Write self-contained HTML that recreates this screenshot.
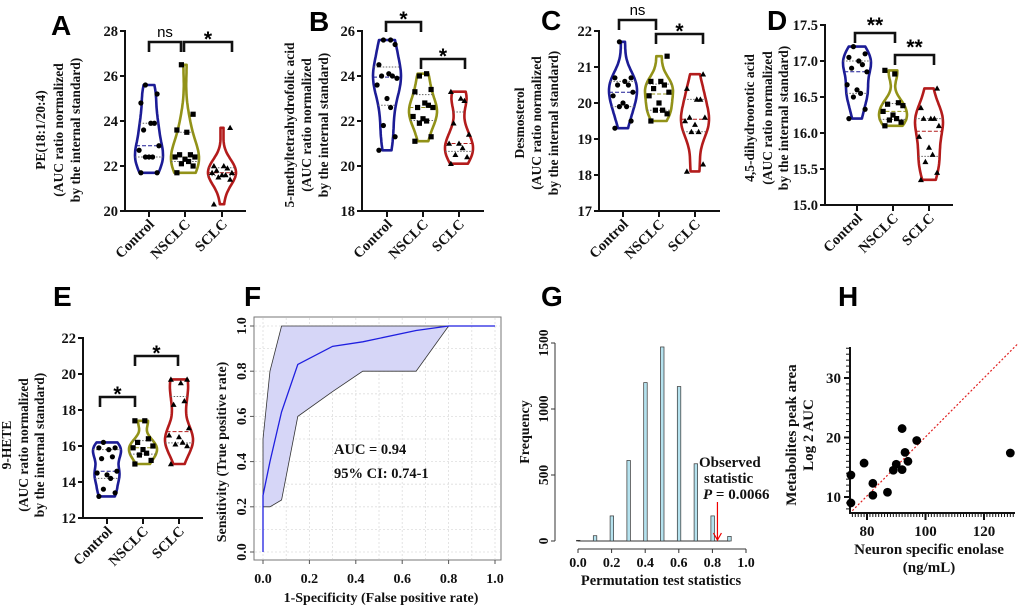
<!DOCTYPE html>
<html><head><meta charset="utf-8"><style>
body{margin:0;background:#fff}
svg{display:block}
.t{font-family:"Liberation Serif",serif;font-weight:bold;fill:#111}
.L{font-family:"Liberation Sans",sans-serif;font-weight:bold;fill:#000}
</style></head><body>
<svg id="fig" width="1020" height="608" viewBox="0 0 1020 608" xmlns="http://www.w3.org/2000/svg"></svg>
<script>
// ---- data (violin panels) ----
const groups = ["Control","NSCLC","SCLC"];
const aControl=[21.7,21.7,22.4,22.4,22.4,22.7,22.9,23.6,23.9,23.9,24.8,25.2,25.6];
const aNSCLC=[21.7,22.0,22.1,22.2,22.3,22.4,22.4,22.5,22.5,23.5,23.6,24.3,26.5];
const aSCLC=[20.3,21.4,21.5,21.6,21.6,21.7,21.7,21.8,21.9,22.0,22.0,23.7];
const bControl=[20.7,21.3,21.8,22.6,23.0,23.6,23.9,24.0,24.0,24.1,24.5,25.4,25.6,25.6];
const bNSCLC=[21.1,21.3,21.9,22.0,22.1,22.2,22.6,22.6,22.7,22.8,23.3,23.4,24.0,24.1];
const bSCLC=[20.1,20.4,20.5,20.8,21.0,21.0,21.4,21.9,22.9,23.0,23.3];
const cControl=[19.3,19.5,19.9,19.9,20.0,20.2,20.3,20.5,20.5,20.6,20.7,20.7,21.7];
const cNSCLC=[19.5,19.7,19.8,19.8,20.0,20.2,20.3,20.4,20.5,20.6,20.6,21.3];
const cSCLC=[18.1,18.3,19.2,19.2,19.4,19.5,19.6,19.6,20.1,20.1,20.4,20.8];
const dControl=[16.2,16.33,16.5,16.55,16.6,16.67,16.85,16.9,16.95,17.0,17.05,17.1,17.2];
const dNSCLC=[16.1,16.15,16.18,16.2,16.25,16.3,16.38,16.4,16.42,16.82,16.87];
const dSCLC=[15.35,15.45,15.6,15.7,15.8,15.95,16.1,16.2,16.2,16.2,16.35,16.62];
const eControl=[13.2,13.4,13.6,14.2,14.4,14.5,14.6,15.3,15.4,15.8,15.9,15.9,16.2];
const eNSCLC=[15.0,15.2,15.5,15.6,15.8,15.9,16.0,16.2,16.4,17.4,17.4];
const eSCLC=[15.0,16.0,16.1,16.2,16.5,16.6,17.0,18.3,18.5,19.5,19.7,19.7];
// ---- ROC ----
const rocFpr=[0,0,0.03,0.08,0.15,0.3,0.43,0.66,0.8,1];
const rocTpr=[0,0.25,0.4,0.62,0.83,0.91,0.93,0.98,1,1];
const ciUpX=[0,0.03,0.08,1];
const ciUpY=[0.5,0.8,1,1];
const ciLoX=[0,0.03,0.08,0.15,0.3,0.43,0.66,0.8,1];
const ciLoY=[0.2,0.2,0.23,0.6,0.71,0.8,0.8,1,1];
const rocTicks=[0,0.2,0.4,0.6,0.8,1.0];
// ---- permutation histogram ----
const permBins=[0.0,0.1,0.2,0.3,0.4,0.5,0.6,0.7,0.8,0.9];
const permFreq=[5,40,190,610,1200,1470,1170,585,190,35];
const permObserved=0.83;
const permYTicks=[0,500,1000,1500];
const permXTicks=[0,0.2,0.4,0.6,0.8,1.0];
// ---- correlation ----
const nseX=[74.5,74.5,79,82,82,87,89,90,92,92,93,94,97,129];
const aucY=[9,13.7,15.7,12.3,10.3,10.8,14.5,15.5,21.5,14.6,17.5,16,19.5,17.4];
const fitLine=[0.496,-29.5];
const hXTicks=[80,100,120];
const hYTicks=[10,20,30];

const NS="http://www.w3.org/2000/svg";
const svg=document.getElementById('fig');
function el(tag,attrs,parent,txt){const e=document.createElementNS(NS,tag);for(const k in attrs)e.setAttribute(k,attrs[k]);if(txt!==undefined)e.textContent=txt;(parent||svg).appendChild(e);return e;}
function grp(name){const g=el('g',{});return g;}
function label(txt,x,y,name){const t=el('text',{x:x,y:y,'class':'L','font-size':28},svg,txt);}
const COLORS=["#1c1c96","#929218","#b31b1b"];

function violinPanel(cfg,dataSets){
  const g=grp(cfg.name);
  const sy=v=>cfg.y0px-(v-cfg.yMin)/(cfg.yMax-cfg.yMin)*(cfg.y0px-cfg.y1px);
  const ya=el('line',{x1:cfg.ax,y1:cfg.y1px-1,x2:cfg.ax,y2:cfg.y0px,stroke:'#111','stroke-width':2},g);
  
  const xa=el('line',{x1:cfg.ax-1,y1:cfg.y0px,x2:cfg.xEnd,y2:cfg.y0px,stroke:'#111','stroke-width':2},g);
  
  for(let v=cfg.yMin;v<=cfg.yMax+1e-9;v+=cfg.step){
    const y=sy(v);
    el('line',{x1:cfg.ax-5,y1:y,x2:cfg.ax,y2:y,stroke:'#111','stroke-width':2},g);
    const t=el('text',{x:cfg.ax-7,y:y+5,'text-anchor':'end','class':'t','font-size':14.5},g,v.toFixed(cfg.dec));
    
  }
  cfg.cx.forEach((cx,i)=>{
    el('line',{x1:cx,y1:cfg.y0px,x2:cx,y2:cfg.y0px+6,stroke:'#111','stroke-width':2},g);
    const t=el('text',{'text-anchor':'end','class':'t','font-size':14.5,transform:`translate(${cx+6},${cfg.y0px+14}) rotate(-45)`},g,groups[i]);
    
  });
  cfg.title.forEach((s,i)=>{
    const t=el('text',{'text-anchor':'middle','class':'t','font-size':cfg.tfs||13.5,transform:`translate(${cfg.tx[i]},${cfg.ty}) rotate(-90)`},g,s);
    
  });
  dataSets.forEach((vals,gi)=>{
    const cx=cfg.cx[gi],col=COLORS[gi];
    const s=[...vals].sort((a,b)=>a-b);const mn=s[0],mx=s[s.length-1];
    const h=(mx-mn)*0.16+1e-6;const N=40;const pts=[];let dmax=0;
    for(let k=0;k<=N;k++){const v=mn+(mx-mn)*k/N;let d=0;s.forEach(x=>{d+=Math.exp(-0.5*((v-x)/h)**2)});pts.push([v,d]);dmax=Math.max(dmax,d);}
    const W=cfg.hw||13;
    let p='';pts.forEach(([v,d],k)=>{p+=(k?'L':'M')+(cx+d/dmax*W).toFixed(1)+','+sy(v).toFixed(1)});
    for(let k=N;k>=0;k--){const [v,d]=pts[k];p+='L'+(cx-d/dmax*W).toFixed(1)+','+sy(v).toFixed(1)}
    p+='Z';
    const vp=el('path',{d:p,fill:'none',stroke:col,'stroke-width':2.6,'stroke-linejoin':'round'},g);
    
    const q=f=>{const i=(s.length-1)*f,lo=Math.floor(i),hi=Math.ceil(i);return s[lo]+(s[hi]-s[lo])*(i-lo)};
    [[0.25,'1.5,1.5','#666'],[0.5,'4,2',col],[0.75,'1.5,1.5','#666']].forEach(([f,da,c])=>{
      const v=q(f);const y=sy(v);let d=0;s.forEach(x=>{d+=Math.exp(-0.5*((v-x)/h)**2)});const w=d/dmax*W;
      el('line',{x1:cx-w,y1:y,x2:cx+w,y2:y,stroke:c,'stroke-width':1,'stroke-dasharray':da},g);
    });
    vals.forEach((v,k)=>{
      const off=[-9,9,-4,4,0,-11,11,-6,6,2][k%10];const x=cx+off*0.9,y=sy(v);let m;
      if(gi===0)m=el('circle',{cx:x,cy:y,r:2.6,fill:'#000'},g);
      else if(gi===1)m=el('rect',{x:x-2.6,y:y-2.6,width:5.2,height:5.2,fill:'#000'},g);
      else m=el('path',{d:`M${x},${y-3}L${x+3},${y+2.3}L${x-3},${y+2.3}Z`,fill:'#000'},g);
      
    });
  });
  cfg.br.forEach(b=>{
    const bp=el('path',{d:`M${b[0]},${b[2]+10}V${b[2]}H${b[1]}V${b[2]+10}`,fill:'none',stroke:'#111','stroke-width':2.6},g);
    
    const ns=b[3]==='ns';
    const t=el('text',{x:(b[0]+b[1])/2,y:ns?b[2]-5:b[2]+(b[3].length>1?-1:4),'text-anchor':'middle','class':'L','font-size':ns?15:21},g,b[3]);
    if(ns)t.setAttribute('style','font-weight:normal');
    
  });
}

violinPanel({name:'panel-a',ax:125,y0px:211,y1px:31,yMin:20,yMax:28,step:2,dec:0,cx:[149,185,222],xEnd:246,hw:14,
  title:['PE(18:1/20:4)','(AUC ratio normalized','by the internal standard)'],tx:[45,63,80],ty:130,
  br:[[149,181,42,'ns'],[184,232,42,'*']]},[aControl,aNSCLC,aSCLC]);
violinPanel({name:'panel-b',ax:362,y0px:211,y1px:31,yMin:18,yMax:26,step:2,dec:0,cx:[387,423,459],xEnd:484,hw:14,
  title:['5-methyltetrahydrofolic acid','(AUC ratio normalized','by the internal standard)'],tx:[294,311,328],ty:125,
  br:[[386,421,22,'*'],[421,465,59,'*']]},[bControl,bNSCLC,bSCLC]);
violinPanel({name:'panel-c',ax:599,y0px:211,y1px:31,yMin:17,yMax:22,step:1,dec:0,cx:[623,659,695],xEnd:720,hw:14,
  title:['Desmosterol','(AUC ratio normalized','by the internal standard)'],tx:[524,541,558],ty:123,
  br:[[619,656,20,'ns'],[656,703,34,'*']]},[cControl,cNSCLC,cSCLC]);
violinPanel({name:'panel-d',ax:825,y0px:205,y1px:25,yMin:15,yMax:17.5,step:0.5,dec:1,cx:[857,893,929],xEnd:953,hw:14,
  title:['4,5-dihydroorotic acid','(AUC ratio normalized','by the internal standard)'],tx:[754,772,788],ty:118,
  br:[[855,895,33,'**'],[895,934,55,'**']]},[dControl,dNSCLC,dSCLC]);
violinPanel({name:'panel-e',ax:83,y0px:518,y1px:338,yMin:12,yMax:22,step:2,dec:0,cx:[107,143,179],xEnd:203,hw:14,
  title:['9-HETE','(AUC ratio normalized','by the internal standard)'],tx:[11,28,44],ty:445,
  br:[[100,135,397,'*'],[135,178,356,'*']]},[eControl,eNSCLC,eSCLC]);

label('A',51,35,'panel-label-a');label('B',309,31,'panel-label-b');label('C',541,30,'panel-label-c');
label('D',767,30,'panel-label-d');label('E',53,306,'panel-label-e');label('F',244,306,'panel-label-f');
label('G',541,306,'panel-label-g');label('H',838,306,'panel-label-h');

// ---- Panel F ROC ----
(function(){
  const g=grp('panel-f-roc');
  const X=v=>263+v*(495-263),Y=v=>552-v*(552-326);
  el('rect',{x:254,y:317,width:247,height:243,fill:'#fff',stroke:'#777','stroke-width':1},g);
  for(let v=0;v<=1.0001;v+=0.1){
    el('line',{x1:X(v),y1:318,x2:X(v),y2:559,stroke:'#ddd','stroke-width':0.8,'stroke-dasharray':'2,2'},g);
    el('line',{x1:255,y1:Y(v),x2:500,y2:Y(v),stroke:'#ddd','stroke-width':0.8,'stroke-dasharray':'2,2'},g);
  }
  let p='';ciUpX.forEach((x,i)=>{p+=(i?'L':'M')+X(x)+','+Y(ciUpY[i])});
  for(let i=ciLoX.length-1;i>=0;i--)p+='L'+X(ciLoX[i])+','+Y(ciLoY[i]);
  const band=el('path',{d:p+'Z',fill:'#d6d6f7',stroke:'#333','stroke-width':0.8},g);
  
  let r='';rocFpr.forEach((x,i)=>{r+=(i?'L':'M')+X(x)+','+Y(rocTpr[i])});
  const rl=el('path',{d:r,fill:'none',stroke:'#1f1fe0','stroke-width':1.3},g);
  
  rocTicks.forEach(v=>{
    el('line',{x1:X(v),y1:560,x2:X(v),y2:564,stroke:'#555'},g);
    el('line',{x1:250,y1:Y(v),x2:254,y2:Y(v),stroke:'#555'},g);
    const tx=el('text',{x:X(v),y:583,'text-anchor':'middle','class':'t','font-size':14},g,v.toFixed(1));
    
    const ty=el('text',{'text-anchor':'middle','class':'t','font-size':14,transform:`translate(246,${Y(v)}) rotate(-90)`},g,v.toFixed(1));
    
  });
  const xt=el('text',{x:381,y:602,'text-anchor':'middle','class':'t','font-size':14},g,'1-Specificity (False positive rate)');
  
  const yt=el('text',{'text-anchor':'middle','class':'t','font-size':14,transform:'translate(226,452) rotate(-90)'},g,'Sensitivity (True positive rate)');
  
  const a1=el('text',{x:334,y:454,'class':'t','font-size':14.5},g,'AUC = 0.94');
  
  const a2=el('text',{x:334,y:478,'class':'t','font-size':14.5},g,'95% CI: 0.74-1');
  
})();

// ---- Panel G histogram ----
(function(){
  const g=grp('panel-g-histogram');
  const X=v=>578+v*(746-578),Y=v=>541-v/1500*(541-343);
  el('line',{x1:555,y1:343,x2:555,y2:541,stroke:'#333'},g);
  el('line',{x1:578,y1:549,x2:746,y2:549,stroke:'#333'},g);
  el('line',{x1:578,y1:541,x2:730,y2:541,stroke:'#333'},g);
  permYTicks.forEach(v=>{
    el('line',{x1:551,y1:Y(v),x2:555,y2:Y(v),stroke:'#333'},g);
    const t=el('text',{'text-anchor':'middle','class':'t','font-size':13.5,transform:`translate(548,${Y(v)}) rotate(-90)`},g,String(v));
    
  });
  permXTicks.forEach(v=>{
    el('line',{x1:X(v),y1:549,x2:X(v),y2:553,stroke:'#333'},g);
    const t=el('text',{x:X(v),y:567,'text-anchor':'middle','class':'t','font-size':14},g,v.toFixed(1));
    
  });
  permBins.forEach((b,i)=>{
    const r=el('rect',{x:X(b)-1.5,y:Y(permFreq[i]),width:3.5,height:541-Y(permFreq[i]),fill:'#b5e2ee',stroke:'#333','stroke-width':0.7},g);
    
  });
  const ax=X(permObserved);
  const ar=el('path',{d:`M${ax},502V540M${ax-4},533L${ax},540L${ax+4},533`,fill:'none',stroke:'#e00','stroke-width':1.2},g);
  
  const o1=el('text',{x:699,y:467,'class':'t','font-size':15},g,'Observed');
  
  el('text',{x:704,y:483,'class':'t','font-size':15},g,'statistic');
  const o3=el('text',{x:703,y:499,'class':'t','font-size':15},g);
  el('tspan',{'font-style':'italic'},o3,'P');el('tspan',{},o3,' = 0.0066');
  const xt=el('text',{x:661,y:585,'text-anchor':'middle','class':'t','font-size':14.5},g,'Permutation test statistics');
  
  const yt=el('text',{'text-anchor':'middle','class':'t','font-size':14,transform:'translate(529,432) rotate(-90)'},g,'Frequency');
  
})();

// ---- Panel H scatter ----
(function(){
  const g=grp('panel-h-scatter');
  const X=v=>867+(v-80)*((984-867)/40),Y=v=>497-(v-10)*((497-378)/20);
  el('line',{x1:850,y1:347,x2:850,y2:514,stroke:'#111','stroke-width':2},g);
  el('line',{x1:849,y1:513,x2:1015,y2:513,stroke:'#111','stroke-width':2},g);
  for(let v=8;v<=35;v++){const y=Y(v);if(y<347)break;el('line',{x1:v%10===0?844:846,y1:y,x2:850,y2:y,stroke:'#111','stroke-width':v%10===0?2:1},g);}
  for(let v=75;v<=131;v++){const x=X(v);if(x<850||x>1015)continue;el('line',{x1:x,y1:513,x2:x,y2:v%20===0?520:517,stroke:'#111','stroke-width':v%20===0?2:1},g);}
  hYTicks.forEach(v=>{const t=el('text',{x:841,y:Y(v)+5,'text-anchor':'end','class':'t','font-size':15},g,String(v));});
  hXTicks.forEach(v=>{const t=el('text',{x:X(v),y:536,'text-anchor':'middle','class':'t','font-size':15},g,String(v));});
  const x0=75,x1=131.5;
  const fl=el('line',{x1:X(x0),y1:Y(fitLine[0]*x0+fitLine[1]),x2:X(x1),y2:Y(fitLine[0]*x1+fitLine[1]),stroke:'#e02020','stroke-width':1.2,'stroke-dasharray':'2,2'},g);
  
  nseX.forEach((x,i)=>{const c=el('circle',{cx:X(x),cy:Y(aucY[i]),r:4.4,fill:'#000'},g);});
  const yt=el('text',{'text-anchor':'middle','class':'t','font-size':15,transform:'translate(796,435) rotate(-90)'},g,'Metabolites peak area');
  
  el('text',{'text-anchor':'middle','class':'t','font-size':15,transform:'translate(813,435) rotate(-90)'},g,'Log 2 AUC');
  const xt=el('text',{x:929,y:554,'text-anchor':'middle','class':'t','font-size':15},g,'Neuron specific enolase');
  
  el('text',{x:929,y:572,'text-anchor':'middle','class':'t','font-size':15},g,'(ng/mL)');
})();
</script>
</body></html>
